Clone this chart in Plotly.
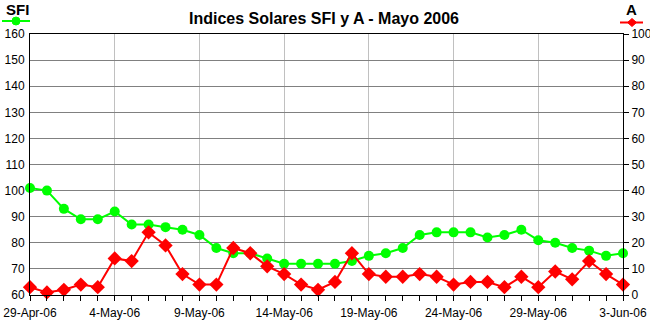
import plotly.graph_objects as go
import pandas as pd

dates = pd.date_range("2006-04-29", "2006-06-03", freq="D")
sfi = [101, 100, 93, 89, 89, 92, 87, 87, 86, 85, 83, 78, 76, 76, 74, 72, 72, 72, 72, 73,
       75, 76, 78, 83, 84, 84, 84, 82, 83, 85, 81, 80, 78, 77, 75, 76]
a_idx = [3, 1, 2, 4, 3, 14, 13, 24, 19, 8, 4, 4, 18, 16, 11, 8, 4, 2, 5, 16,
         8, 7, 7, 8, 7, 4, 5, 5, 3, 7, 3, 9, 6, 13, 8, 4]

title = "Indices Solares SFI y A - Mayo 2006"
FONT = "Liberation Sans, Arial, sans-serif"
GREEN = "#00ff00"
RED = "#ff0000"

fig = go.Figure()
fig.add_trace(go.Scatter(x=dates, y=sfi, mode="lines+markers", name="SFI",
                         line=dict(color=GREEN, width=2),
                         marker=dict(symbol="circle", size=10, color=GREEN),
                         yaxis="y", cliponaxis=False))
fig.add_trace(go.Scatter(x=dates, y=a_idx, mode="lines+markers", name="A",
                         line=dict(color=RED, width=2),
                         marker=dict(symbol="diamond", size=11, color=RED),
                         yaxis="y2", cliponaxis=False))

L, R, T, B = 30, 27, 34, 27
W, H = 650, 322
pw = W - L - R
ph = H - T - B


def px(xp):
    return (xp - L) / pw


def py(yp):
    return (H - B - yp) / ph


shapes = [
    dict(type="line", xref="paper", yref="paper", x0=px(2), x1=px(30), y0=py(21), y1=py(21),
         line=dict(color=GREEN, width=2)),
    dict(type="circle", xref="paper", yref="paper", x0=px(12), x1=px(20), y0=py(25), y1=py(17),
         fillcolor=GREEN, line=dict(color=GREEN, width=1)),
    dict(type="line", xref="paper", yref="paper", x0=px(620), x1=px(643), y0=py(22.5), y1=py(22.5),
         line=dict(color=RED, width=2)),
    dict(type="path", xref="paper", yref="paper",
         path=f"M {px(632)} {py(18.5)} L {px(636.5)} {py(22.5)} L {px(632)} {py(26.5)} L {px(627.5)} {py(22.5)} Z",
         fillcolor=RED, line=dict(color=RED, width=1)),
]

annotations = [
    dict(text="<b>SFI</b>", xref="paper", yref="paper", x=px(17), y=py(10), showarrow=False,
         font=dict(family=FONT, size=15, color="black"), xanchor="center", yanchor="middle"),
    dict(text="<b>A</b>", xref="paper", yref="paper", x=px(631), y=py(9), showarrow=False,
         font=dict(family=FONT, size=15, color="black"), xanchor="center", yanchor="middle"),
]

fig.update_layout(
    width=W, height=H,
    margin=dict(l=L, r=R, t=T, b=B, autoexpand=False),
    paper_bgcolor="white", plot_bgcolor="white",
    showlegend=False,
    font=dict(family=FONT, size=12, color="black"),
    title=dict(text="<b>" + title + "</b>", x=px(324), xref="paper", xanchor="center",
               y=1 - 18 / H, yanchor="middle", font=dict(family=FONT, size=16, color="black")),
    xaxis=dict(type="date", range=[dates[0], dates[-1]], automargin=False,
               tick0=dates[0], dtick=5 * 86400000, tickformat="%-d-%b-%y",
               ticks="outside", ticklen=5, tickcolor="black",
               showgrid=True, gridcolor="#c0c0c0", gridwidth=1,
               showline=True, linecolor="black", linewidth=1, mirror=True,
               minor=dict(dtick=86400000, tick0=dates[0], ticks="outside", ticklen=5,
                          tickcolor="black", showgrid=False),
               tickfont=dict(size=12), ticklabelstandoff=2, zeroline=False),
    yaxis=dict(range=[60, 160], dtick=10, ticks="", showgrid=True, gridcolor="#808080",
               gridwidth=1, showline=True, linecolor="black", linewidth=1, automargin=False,
               tickfont=dict(size=12), ticklabelstandoff=2, zeroline=False),
    yaxis2=dict(range=[0, 100], dtick=10, overlaying="y", side="right", automargin=False,
                ticks="outside", ticklen=5, tickcolor="black", showgrid=False,
                showline=True, linecolor="black", linewidth=1,
                tickfont=dict(size=12), zeroline=False),
    shapes=shapes,
    annotations=annotations,
)

fig.write_html("out.html")
